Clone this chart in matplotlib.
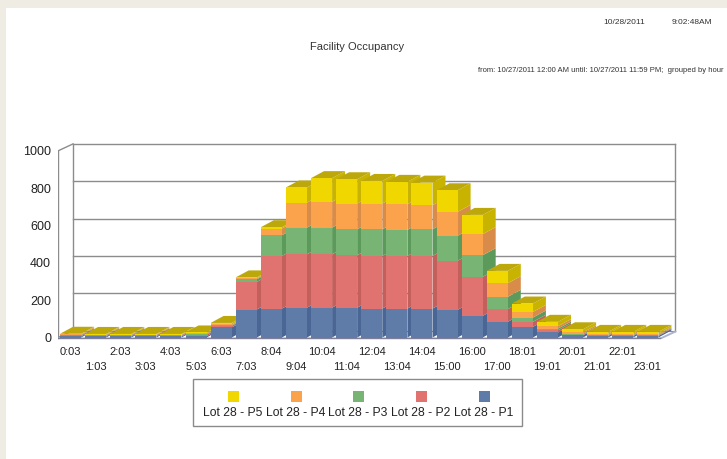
import matplotlib
matplotlib.use('Agg')
import matplotlib.pyplot as plt
from matplotlib.patches import Polygon, Rectangle

plt.rcParams['font.family'] = ['Liberation Sans', 'DejaVu Sans']

hours = ['0:03', '1:03', '2:03', '3:03', '4:03', '5:03', '6:03', '7:03',
         '8:04', '9:04', '10:04', '11:04', '12:04', '13:04', '14:04', '15:00',
         '16:00', '17:00', '18:01', '19:01', '20:01', '21:01', '22:01', '23:01']

p1 = [6, 6, 6, 6, 6, 7, 54, 150, 155, 160, 160, 160, 155, 155, 155, 148, 116, 84, 57, 27, 12, 8, 8, 8]
p2 = [5, 4, 4, 5, 4, 8, 8, 148, 282, 286, 286, 281, 282, 282, 282, 263, 209, 68, 27, 12, 4, 3, 3, 3]
p3 = [2, 3, 3, 2, 3, 3, 3, 14, 111, 143, 143, 139, 143, 140, 143, 134, 116, 66, 23, 9, 4, 3, 3, 3]
p4 = [4, 3, 3, 3, 3, 5, 5, 5, 36, 134, 138, 138, 138, 137, 129, 128, 113, 73, 30, 13, 8, 6, 6, 6]
p5 = [3, 3, 3, 3, 3, 4, 8, 5, 7, 81, 127, 130, 121, 120, 121, 116, 103, 66, 45, 23, 16, 10, 10, 10]

series = [p1, p2, p3, p4, p5]
names = ['Lot 28 - P1', 'Lot 28 - P2', 'Lot 28 - P3', 'Lot 28 - P4', 'Lot 28 - P5']
front = ['#5f7ca8', '#e07370', '#78b473', '#fba24c', '#f0d700']
side = ['#4a6694', '#c4605c', '#5c9a5c', '#d98c4a', '#c8b400']
top_col = '#bca80a'

W, H = 727, 459
PX_X = 25.1      # pixels per bar slot
PX_Y = 0.1866    # pixels per occupancy unit
X0, Y0 = 58, 337.5
DX, DY = 15 / PX_X, 7 / PX_Y     # wall depth
BDX, BDY = 13 / PX_X, 7 / PX_Y   # bar depth
bw = 0.84
n = len(hours)

fig = plt.figure(figsize=(W / 100, H / 100), dpi=100, facecolor='#efede3')
fig.add_artist(Rectangle((6 / W, 0), 1, 1 - 8 / H, transform=fig.transFigure,
                         facecolor='white', edgecolor='none', zorder=0))

left, right, top, bottom = 58, 700, 135, 341
ax = fig.add_axes([left / W, (H - bottom) / H, (right - left) / W, (bottom - top) / H])
ax.set_xlim(-0.5, -0.5 + (right - left) / PX_X)
ax.set_ylim(-(bottom - Y0) / PX_Y, (Y0 - top) / PX_Y)
ax.patch.set_visible(False)
for s in ax.spines.values():
    s.set_visible(False)

# back wall and floor
grid_c = '#8c8c8c'
xl, xr = -0.5, n - 0.5
for v in [200, 400, 600, 800, 1000]:
    ax.plot([xl + DX, xr + DX], [v + DY, v + DY], color=grid_c, lw=1, zorder=1)
ax.plot([xl + DX, xl + DX], [DY, 1000 + DY], color=grid_c, lw=1, zorder=1)
ax.plot([xr + DX, xr + DX], [DY, 1000 + DY], color=grid_c, lw=1, zorder=1)
ax.plot([xl, xl], [0, 1000], color=grid_c, lw=1, zorder=1)
ax.plot([xl, xl + DX], [1000, 1000 + DY], color=grid_c, lw=1, zorder=1)
ax.plot([xl, xl + DX], [0, DY], color=grid_c, lw=1, zorder=1)
ax.plot([xl + DX, xr + DX], [DY, DY], color=grid_c, lw=0.8, zorder=1)
ax.add_patch(Polygon([(xl, 0), (xr, 0), (xr + DX, DY), (xr + DX + 0.05, DY - 8),
                      (xr + 0.05, -8), (xl, -8)],
                     closed=True, facecolor='#aab3cf', edgecolor='none', zorder=1))
ax.plot([xl, xr], [0, 0], color='#7f7f9a', lw=1, zorder=1)

x = list(range(n))
bottoms = [0] * n
for k, vals in enumerate(series):
    bars = ax.bar(x, vals, width=bw, bottom=bottoms, color=front[k], linewidth=0)
    for i, b in enumerate(bars):
        b.set_zorder(3 + 2 * i)
        b0, b1 = bottoms[i], bottoms[i] + vals[i]
        xr_i = x[i] + bw / 2
        ax.add_patch(Polygon([(xr_i, b0), (xr_i + BDX, b0 + BDY), (xr_i + BDX, b1 + BDY), (xr_i, b1)],
                             closed=True, facecolor=side[k], edgecolor='none', zorder=2 + 2 * i))
    bottoms = [bottoms[i] + vals[i] for i in range(n)]

for i in range(n):
    t = bottoms[i]
    xl_i, xr_i = x[i] - bw / 2, x[i] + bw / 2
    ax.add_patch(Polygon([(xl_i, t), (xr_i, t), (xr_i + BDX, t + BDY), (xl_i + BDX, t + BDY)],
                         closed=True, facecolor=top_col, edgecolor='none', zorder=2 + 2 * i))

ax.set_yticks([0, 200, 400, 600, 800, 1000])
ax.tick_params(axis='y', length=0, pad=5, labelsize=9, labelcolor='#222222')

# hour labels in two staggered rows
ax.set_xticks(x[::2])
ax.set_xticklabels(hours[::2])
ax.set_xticks(x[1::2], minor=True)
ax.set_xticklabels(hours[1::2], minor=True)
ax.tick_params(axis='x', which='major', length=0, pad=4, labelsize=8, labelcolor='#222222')
ax.tick_params(axis='x', which='minor', length=0, pad=15, labelsize=8, labelcolor='#222222')

# header texts
fig.text(603 / W, 1 - 23 / H, '10/28/2011', fontsize=6, color='#333333', va='center', ha='left')
fig.text(712 / W, 1 - 23 / H, '9:02:48AM', fontsize=6, color='#333333', va='center', ha='right')
fig.text(357 / W, 1 - 47 / H, 'Facility Occupancy', fontsize=8, color='#333333', va='center', ha='center')
fig.text(724 / W, 1 - 71 / H,
         'from: 10/27/2011 12:00 AM until: 10/27/2011 11:59 PM;  grouped by hour',
         fontsize=5.5, color='#333333', va='center', ha='right')

# legend box
fig.add_artist(Rectangle((193 / W, 1 - 426 / H), (522 - 193) / W, (426 - 379) / H,
                         transform=fig.transFigure, facecolor='white', edgecolor='#8a8a8a', lw=1))
leg_x = [233, 296, 358, 421, 484]
for j, k in enumerate([4, 3, 2, 1, 0]):
    fig.add_artist(Rectangle(((leg_x[j] - 5.5) / W, 1 - 401.5 / H), 11 / W, 11 / H,
                             transform=fig.transFigure, facecolor=front[k], edgecolor='none'))
    fig.text(leg_x[j] / W, 1 - 413 / H, names[k], fontsize=8.7, color='#222222',
             va='center', ha='center')

fig.savefig('out.png', dpi=100, facecolor=fig.get_facecolor())
